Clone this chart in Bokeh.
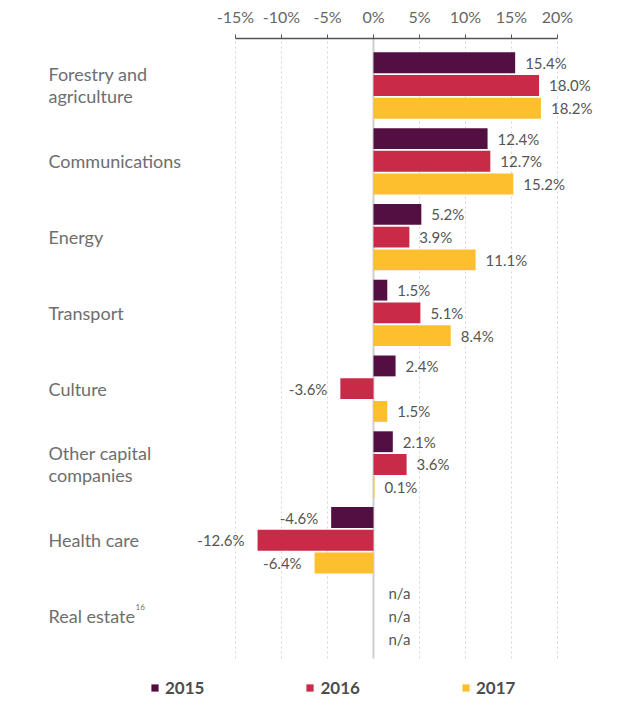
from bokeh.plotting import figure
from bokeh.models import ColumnDataSource, FixedTicker, Legend, LegendItem, CustomJSTickFormatter
from bokeh.core.properties import value
from bokeh.embed import file_html
from bokeh.resources import INLINE

categories = ["Forestry and\nagriculture", "Communications", "Energy", "Transport",
              "Culture", "Other capital\ncompanies", "Health care", "Real estate"]
v2015 = [15.4, 12.4, 5.2, 1.5, 2.4, 2.1, -4.6, None]
v2016 = [18.0, 12.7, 3.9, 5.1, -3.6, 3.6, -12.6, None]
v2017 = [18.2, 15.2, 11.1, 8.4, 1.5, 0.1, -6.4, None]
years = ["2015", "2016", "2017"]
colors = ["#530f42", "#c92a48", "#fdbf2d"]
ticks = [-15, -10, -5, 0, 5, 10, 15, 20]
footnote = "16"

FONT = "Lato"
X0, X1 = -40.54, 26.74
Y_TOP, Y_BOT, Y_LEG = 0.62, -7.56, -8.114

p = figure(width=619, height=700, x_range=(X0, X1), y_range=(Y_LEG, Y_TOP),
           output_backend="svg", toolbar_location=None, x_axis_location="above",
           y_axis_location=None, min_border_left=0, min_border_right=0,
           min_border_top=38, min_border_bottom=0, outline_line_color=None)

ax = p.xaxis[0]
ax.ticker = FixedTicker(ticks=ticks)
ax.bounds = (ticks[0], ticks[-1])
ax.formatter = CustomJSTickFormatter(code="return tick + '%';")
ax.major_label_text_font = FONT
ax.major_label_text_font_size = "16px"
ax.major_label_text_color = "#666666"
ax.axis_line_color = "#555555"
ax.axis_line_width = 1.5
ax.major_tick_line_color = "#555555"
ax.major_tick_out = 4
ax.major_tick_in = 0
ax.minor_tick_line_color = None
ax.major_label_standoff = 9

p.xgrid.grid_line_color = None
p.ygrid.grid_line_color = None

# gridlines limited to the bar area
gt = [t for t in ticks if t != 0]
p.segment(x0=gt, x1=gt, y0=[Y_BOT] * len(gt), y1=[Y_TOP] * len(gt),
          line_color="#d4d4d4", line_dash="2 3", line_width=1)
p.segment(x0=[0], x1=[0], y0=[Y_BOT], y1=[Y_TOP], line_color="#cfcfcf", line_width=2)

n = len(categories)
ys = [-i for i in range(n)]
offs = [0.30, 0.0, -0.30]
series = [v2015, v2016, v2017]
renderers = []
for vals, off, col in zip(series, offs, colors):
    yy = [y + off for y in ys]
    vv = [v if v is not None else 0 for v in vals]
    src = ColumnDataSource(dict(y=yy, right=vv))
    r = p.hbar(y="y", left=0, right="right", height=0.275, source=src,
               fill_color=col, line_color=None)
    renderers.append(r)
    pos = [(v, y, f"{v:.1f}%") for v, y in zip(vals, yy) if v is not None and v >= 0]
    neg = [(v, y, f"{v:.1f}%") for v, y in zip(vals, yy) if v is not None and v < 0]
    na = [(0, y, "n/a") for v, y in zip(vals, yy) if v is None]
    for items, align, xo in [(pos, "left", 10), (neg, "right", -13), (na, "left", 15)]:
        if items:
            p.text(x=[a[0] for a in items], y=[a[1] for a in items], text=[a[2] for a in items],
                   text_align=align, text_baseline="middle", x_offset=xo,
                   text_font=value(FONT), text_font_size="15px", text_color="#555555")

p.text(x=[X0] * n, y=ys, text=categories, x_offset=48, text_align="left",
       text_baseline="middle", text_font=value(FONT), text_font_size="18px",
       text_color="#6e6e6e", text_line_height=1.0)
p.text(x=[X0], y=[ys[-1]], text=[footnote], x_offset=135, y_offset=-9, text_align="left",
       text_baseline="middle", text_font=value(FONT), text_font_size="8px", text_color="#6e6e6e")

legend = Legend(items=[LegendItem(label=yr, renderers=[r]) for yr, r in zip(years, renderers)],
                orientation="horizontal", location=(150, 2), margin=0, padding=0,
                glyph_width=9, glyph_height=9, label_standoff=6, spacing=101,
                label_text_font=FONT, label_text_font_size="17px", label_text_font_style="bold",
                label_text_color="#4d4d4d", border_line_color=None, background_fill_alpha=0)
p.add_layout(legend)

open("out.html", "w").write(file_html(p, INLINE))
